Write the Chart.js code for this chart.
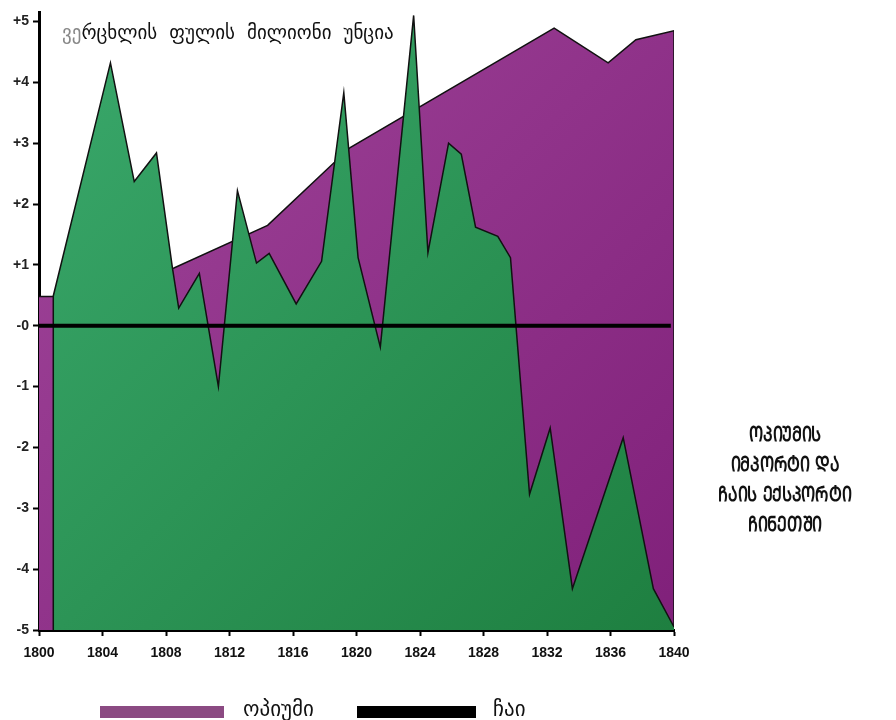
<!DOCTYPE html>
<html>
<head>
<meta charset="utf-8">
<script src="https://cdn.jsdelivr.net/npm/chart.js@4.4.0/dist/chart.umd.min.js"></script>
<style>
  body { margin: 0; background: #fff; }
  #wrap { position: relative; width: 896px; height: 720px; }
  #title {
    position: absolute; left: 62px; top: 21px;
    font-family: "DejaVu Sans", sans-serif; font-size: 19px; color: #111;
    word-spacing: 6px; white-space: nowrap;
  }
  #side {
    position: absolute; left: 685px; top: 419px; width: 200px;
    font-family: "DejaVu Sans", sans-serif; font-weight: bold; font-size: 18px;
    line-height: 26px; text-align: center; color: #111; white-space: nowrap;
    transform: scale(0.88, 1.15); transform-origin: center top;
  }
  .leg { position: absolute; top: 706px; height: 12px; }
  .legtxt {
    position: absolute; top: 697px;
    font-family: "DejaVu Sans", sans-serif; font-size: 21px; color: #111;
  }
</style>
</head>
<body>
<div id="wrap">
  <canvas id="myChart" width="896" height="720"></canvas>
  <div id="title"><span style="color:#888">ვე</span>რცხლის ფულის მილიონი უნცია</div>
  <div id="side">ᲝᲞᲘᲣᲛᲘᲡ<br>ᲘᲛᲞᲝᲠᲢᲘ ᲓᲐ<br>ᲩᲐᲘᲡ ᲔᲥᲡᲞᲝᲠᲢᲘ<br>ᲩᲘᲜᲔᲗᲨᲘ</div>
  <div class="leg" style="left:100px;width:124px;background:#8b4a82"></div>
  <div class="legtxt" style="left:243px">ოპიუმი</div>
  <div class="leg" style="left:357px;width:119px;background:#000"></div>
  <div class="legtxt" style="left:493px">ჩაი</div>
</div>
<script>
const opiumYears = [1800, 1800.9, 1808.5, 1814.4, 1819.6, 1832.45, 1835.85, 1837.6, 1840, 1840];
const opiumValues = [0.48, 0.48, 0.95, 1.65, 2.93, 4.89, 4.32, 4.7, 4.85, -5];

const teaYears = [1800.9, 1800.9, 1804.5, 1806.0, 1807.4, 1808.4, 1808.8, 1810.1, 1811.3, 1812.5,
    1813.7, 1814.5, 1816.2, 1817.8, 1819.2, 1820.1, 1821.5, 1823.6, 1824.5, 1825.8,
    1826.6, 1827.5, 1828.9, 1829.7, 1830.9, 1832.2, 1833.6, 1836.8, 1838.7, 1840];
const teaValues = [-5, 0.49, 4.32, 2.37, 2.84, 0.96, 0.29, 0.86, -1.0, 2.22,
    1.03, 1.19, 0.36, 1.06, 3.83, 1.12, -0.35, 5.1, 1.2, 3.0,
    2.82, 1.62, 1.47, 1.12, -2.77, -1.68, -4.32, -1.84, -4.32, -4.95];

const zeroYears = [1800, 1839.8];
const zeroValues = [0, 0];

const toPoints = (xs, ys) => xs.map((x, i) => ({x: x, y: ys[i]}));

function gradient(context, from, to) {
    const area = context.chart.chartArea;
    if (!area) return from;
    const g = context.chart.ctx.createLinearGradient(area.left, area.top, area.right, area.bottom);
    g.addColorStop(0, from);
    g.addColorStop(1, to);
    return g;
}

const ctx = document.getElementById('myChart').getContext('2d');
new Chart(ctx, {
    type: 'line',
    data: {
        datasets: [
            {
                label: 'zero',
                data: toPoints(zeroYears, zeroValues),
                borderColor: '#000',
                borderWidth: 4,
                pointRadius: 0,
                fill: false,
                order: 0
            },
            {
                label: 'ჩაი',
                data: toPoints(teaYears, teaValues),
                borderColor: '#111',
                borderWidth: 1.5,
                pointRadius: 0,
                tension: 0,
                fill: 'start',
                backgroundColor: c => gradient(c, '#3aa96c', '#1e7f40'),
                order: 1
            },
            {
                label: 'ოპიუმი',
                data: toPoints(opiumYears, opiumValues),
                borderColor: '#111',
                borderWidth: 1.5,
                pointRadius: 0,
                tension: 0,
                fill: 'start',
                backgroundColor: c => gradient(c, '#a0469a', '#80207a'),
                order: 2
            }
        ]
    },
    options: {
        responsive: false,
        animation: false,
        layout: { padding: { top: 8, right: 222, bottom: 50, left: 0 } },
        plugins: {
            legend: { display: false },
            tooltip: { enabled: false }
        },
        scales: {
            x: {
                type: 'linear',
                min: 1800,
                max: 1840,
                afterFit: scale => { scale.height = 40; },
                border: { display: true, color: '#000', width: 3 },
                grid: { drawOnChartArea: false, tickLength: 6, tickColor: '#000', tickWidth: 2 },
                ticks: {
                    stepSize: 4,
                    padding: 9,
                    color: '#111',
                    font: { family: 'Liberation Sans', size: 14, weight: 'bold' },
                    callback: v => String(v)
                }
            },
            y: {
                min: -5,
                max: 5.15,
                afterFit: scale => { scale.width = 39; },
                border: { display: true, color: '#000', width: 3 },
                grid: { drawOnChartArea: false, tickLength: 6, tickColor: '#000', tickWidth: 2 },
                ticks: {
                    stepSize: 1,
                    includeBounds: false,
                    padding: 4,
                    color: '#222',
                    font: { family: 'Liberation Sans', size: 14, weight: 'bold' },
                    callback: v => v > 0 ? '+' + v : (v === 0 ? '-0' : String(v))
                }
            }
        }
    }
});
</script>
</body>
</html>
